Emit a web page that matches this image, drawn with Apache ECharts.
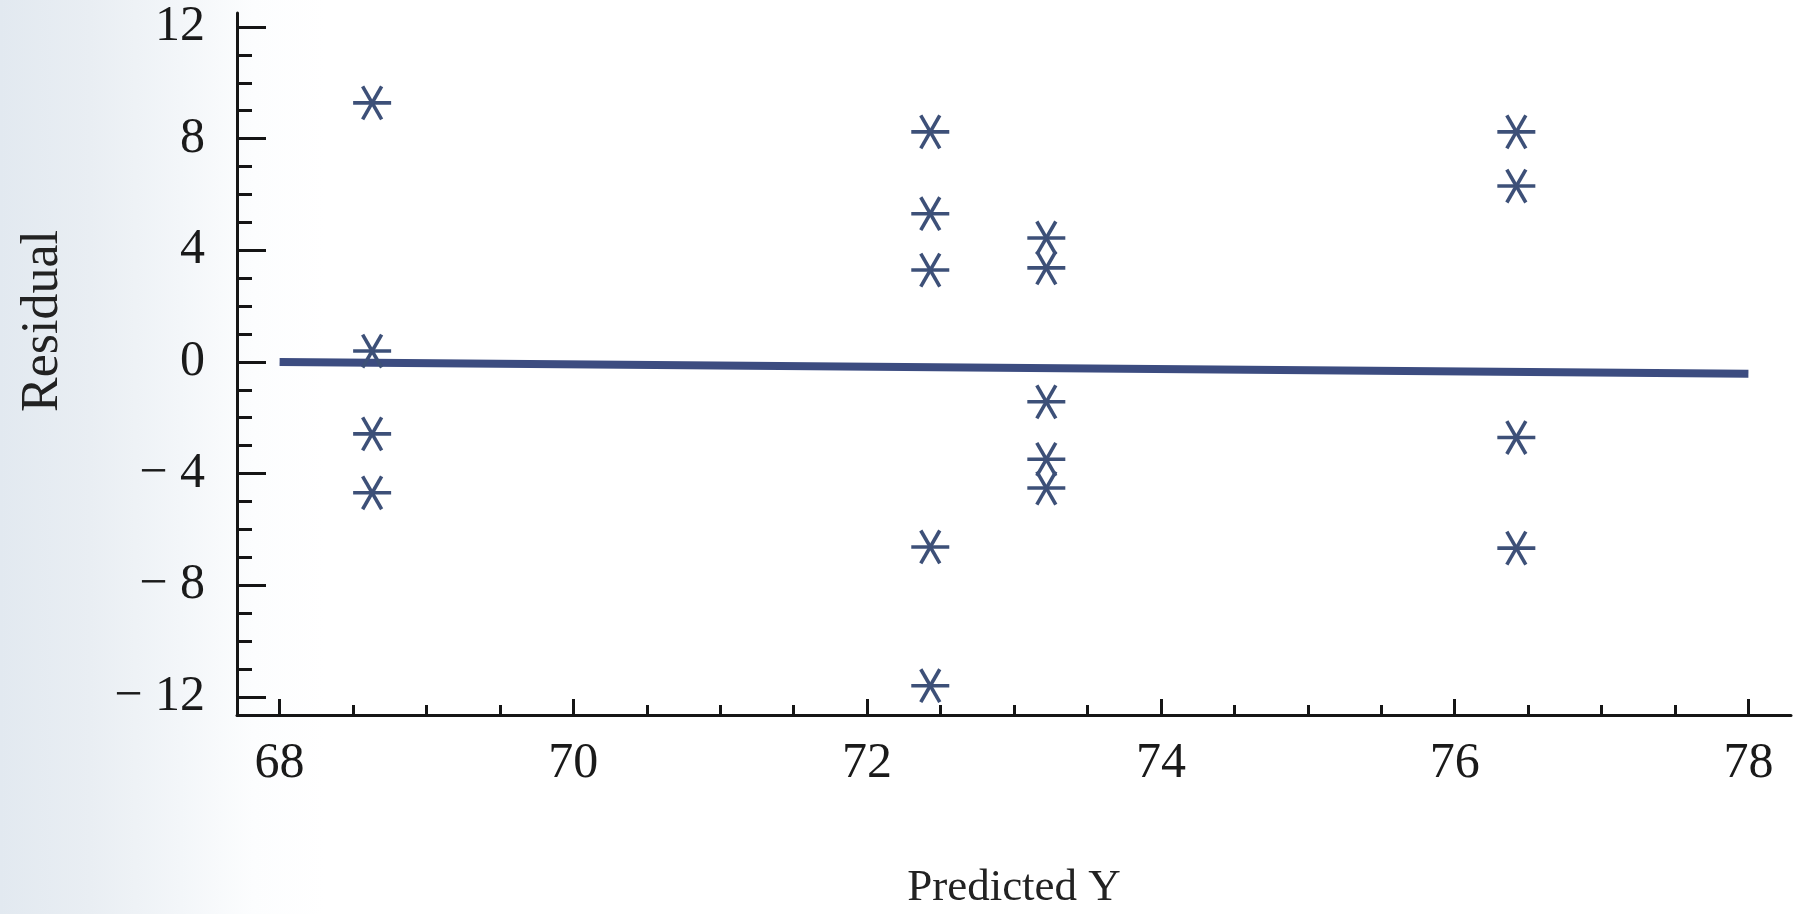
<!DOCTYPE html>
<html>
<head>
<meta charset="utf-8">
<script src="https://cdn.jsdelivr.net/npm/echarts@6/dist/echarts.min.js"></script>
<style>
  html, body { margin: 0; padding: 0; background: #ffffff; }
  #chart { width: 1806px; height: 914px; }
</style>
</head>
<body>
<div id="chart"></div>
<script>
// ---- data ----
const predictedY = [68.63, 68.63, 68.63, 68.63,
                    72.43, 72.43, 72.43, 72.43, 72.43,
                    73.22, 73.22, 73.22, 73.22, 73.22,
                    76.42, 76.42, 76.42, 76.42];
const residuals  = [9.28, 0.39, -2.58, -4.69,
                    8.24, 5.31, 3.29, -6.63, -11.6,
                    4.44, 3.37, -1.43, -3.49, -4.52,
                    8.24, 6.30, -2.71, -6.67];
const fitLineX = [68, 78];
const fitLineY = [0, -0.42];
const xMajorTicks = [68, 70, 72, 74, 76, 78];
const xMinorTicks = [68, 68.5, 69, 69.5, 70, 70.5, 71, 71.5, 72, 72.5, 73, 73.5, 74, 74.5, 75, 75.5, 76, 76.5, 77, 77.5, 78];
const yMajorTicks = [-12, -8, -4, 0, 4, 8, 12];
const yMinorTicks = [-12, -11, -10, -9, -8, -7, -6, -5, -4, -3, -2, -1, 0, 1, 2, 3, 4, 5, 6, 7, 8, 9, 10, 11, 12];
const xName = 'Predicted Y';
const yName = 'Residual';

const points = predictedY.map((x, i) => [x, residuals[i]]);
const fitLine = fitLineX.map((x, i) => [x, fitLineY[i]]);

const FONT = '"Liberation Serif", "Times New Roman", serif';
const INK = '#151515';
const STAR = '#3d5078';
const X_MIN = 67.71, X_MAX = 78.29, Y_MIN = -12.65, Y_MAX = 12.5;

const fmt = v => v < 0 ? '\u2212 ' + (-v) : String(v);

const chart = echarts.init(document.getElementById('chart'), null, { renderer: 'canvas' });

chart.setOption({
  backgroundColor: new echarts.graphic.LinearGradient(0, 0, 1, 0, [
    { offset: 0, color: '#e2e9f0' },
    { offset: 0.05, color: '#e9eef3' },
    { offset: 0.10, color: '#f3f6f9' },
    { offset: 0.14, color: '#fcfdfe' },
    { offset: 0.18, color: '#ffffff' },
    { offset: 1, color: '#ffffff' }
  ]),
  animation: false,
  grid: { left: 237, right: 15, top: 13, bottom: 199, containLabel: false, outerBoundsMode: 'none' },
  xAxis: [{
    type: 'value', min: X_MIN, max: X_MAX,
    name: xName, nameLocation: 'middle', nameGap: 151,
    nameTextStyle: { fontFamily: FONT, fontSize: 45, color: '#222' },
    axisLine: { show: true, onZero: false, lineStyle: { color: INK, width: 3 } },
    axisTick: { show: true, inside: true, length: 16, customValues: xMajorTicks, lineStyle: { color: INK, width: 3 } },
    axisLabel: { show: true, customValues: xMajorTicks, margin: 24, fontFamily: FONT, fontSize: 50, color: '#1a1a1a', formatter: fmt },
    splitLine: { show: false }
  }, {
    type: 'value', min: X_MIN, max: X_MAX, position: 'bottom',
    axisLine: { show: false, onZero: false },
    axisTick: { show: true, inside: true, length: 10, customValues: xMinorTicks, lineStyle: { color: INK, width: 3 } },
    axisLabel: { show: false },
    splitLine: { show: false }
  }],
  yAxis: [{
    type: 'value', min: Y_MIN, max: Y_MAX,
    name: yName, nameLocation: 'middle', nameGap: 168,
    nameTextStyle: { fontFamily: FONT, fontSize: 52, color: '#222', padding: [0, 0, 0, 86] },
    axisLine: { show: true, onZero: false, lineStyle: { color: INK, width: 3 } },
    axisTick: { show: true, inside: true, length: 29, customValues: yMajorTicks, lineStyle: { color: INK, width: 3 } },
    axisLabel: { show: true, customValues: yMajorTicks, margin: 32, fontFamily: FONT, fontSize: 50, color: '#1a1a1a', formatter: fmt },
    splitLine: { show: false }
  }, {
    type: 'value', min: Y_MIN, max: Y_MAX, position: 'left',
    axisLine: { show: false, onZero: false },
    axisTick: { show: true, inside: true, length: 15, customValues: yMinorTicks, lineStyle: { color: INK, width: 3 } },
    axisLabel: { show: false },
    splitLine: { show: false }
  }],
  series: [{
    type: 'line',
    data: fitLine,
    showSymbol: false,
    symbol: 'none',
    lineStyle: { color: '#3c4c80', width: 8 },
    z: 2
  }, {
    type: 'custom',
    data: points,
    z: 3,
    renderItem: function (params, api) {
      const p = api.coord([api.value(0), api.value(1)]);
      const r = 19;
      const dx = r * Math.cos(Math.PI / 3);
      const dy = r * Math.sin(Math.PI / 3);
      const style = { stroke: STAR, lineWidth: 3.6, lineCap: 'butt' };
      return {
        type: 'group',
        children: [
          { type: 'line', shape: { x1: p[0] - r, y1: p[1], x2: p[0] + r, y2: p[1] }, style: style },
          { type: 'line', shape: { x1: p[0] - dx, y1: p[1] - dy, x2: p[0] + dx, y2: p[1] + dy }, style: style },
          { type: 'line', shape: { x1: p[0] + dx, y1: p[1] - dy, x2: p[0] - dx, y2: p[1] + dy }, style: style }
        ]
      };
    }
  }]
});
</script>
</body>
</html>
